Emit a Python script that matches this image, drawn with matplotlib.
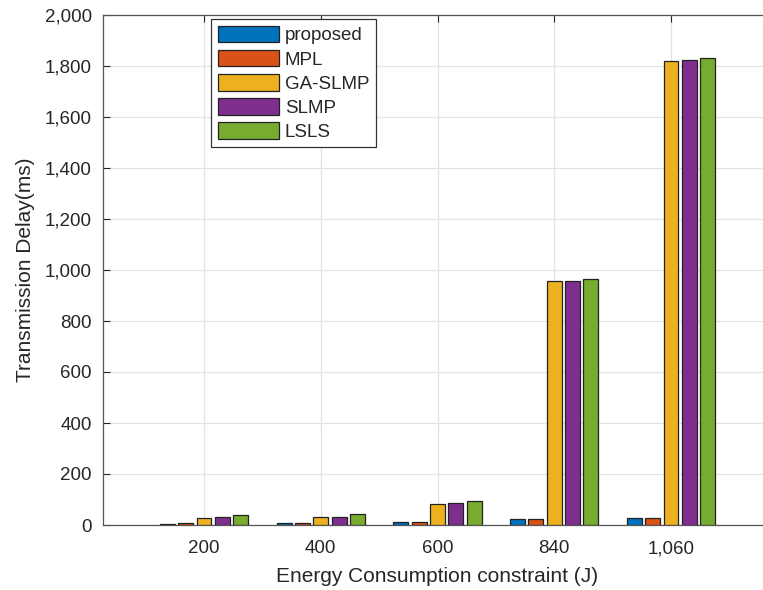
import numpy as np
import matplotlib
matplotlib.use('Agg')
import matplotlib.pyplot as plt
from matplotlib.ticker import FuncFormatter

plt.rcParams['font.family'] = ['Liberation Sans', 'DejaVu Sans']

# energy constraint groups and delay per method (ms)
categories = ['200', '400', '600', '840', '1,060']
proposed = [4, 8, 12, 22, 26]
mpl_delay = [9, 8, 12, 22, 27]
ga_slmp = [27, 33, 82, 955, 1821]
slmp = [31, 31, 86, 955, 1824]
lsls = [40, 42, 95, 964, 1833]

series = [proposed, mpl_delay, ga_slmp, slmp, lsls]
names = ['proposed', 'MPL', 'GA-SLMP', 'SLMP', 'LSLS']
colors = ['#0072BD', '#D95319', '#EDB120', '#7E2F8E', '#77AC30']

fig = plt.figure(figsize=(7.63, 5.90), dpi=100)
# right side of the axes runs past the figure edge
ax = fig.add_axes([103 / 763, 65 / 590, 669 / 763, 510 / 590])

x = np.arange(1, len(categories) + 1)
pitch = 0.157
width = 0.128
for i, (vals, name, c) in enumerate(zip(series, names, colors)):
    ax.bar(x + (i - 2) * pitch, vals, width, color=c, edgecolor='#222222',
           linewidth=0.9, label=name, zorder=3)

ax.set_xlim(0.135, 5.865)
ax.set_ylim(0, 2000)
ax.set_xticks(x)
ax.set_xticklabels(categories)
ax.set_yticks(np.arange(0, 2001, 200))
ax.yaxis.set_major_formatter(FuncFormatter(lambda v, p: f'{int(v):,}'))

ax.grid(True, color='#e3e3e3', linewidth=0.9, zorder=0)
ax.set_axisbelow(True)
ax.tick_params(direction='in', length=5, width=0.8, color='#262626',
               labelsize=13.5, labelcolor='#262626', top=True, right=True)
ax.tick_params(axis='x', pad=11)
ax.tick_params(axis='y', pad=8)
for sp in ax.spines.values():
    sp.set_color('#555555')
    sp.set_linewidth(0.9)

ax.set_xlabel('Energy Consumption constraint (J)', fontsize=15, color='#262626', labelpad=7)
ax.set_ylabel('Transmission Delay(ms)', fontsize=15, color='#262626', labelpad=7)

leg = ax.legend(loc='upper left', bbox_to_anchor=(0.1614, 0.992), borderaxespad=0,
                fontsize=13.5, handlelength=3.3, handleheight=1.0, labelspacing=0.28,
                handletextpad=0.28, borderpad=0.35, fancybox=False, framealpha=1)
leg.get_frame().set_edgecolor('#333333')
leg.get_frame().set_linewidth(0.9)
for t in leg.get_texts():
    t.set_color('#262626')

plt.savefig('out.png', dpi=100)
